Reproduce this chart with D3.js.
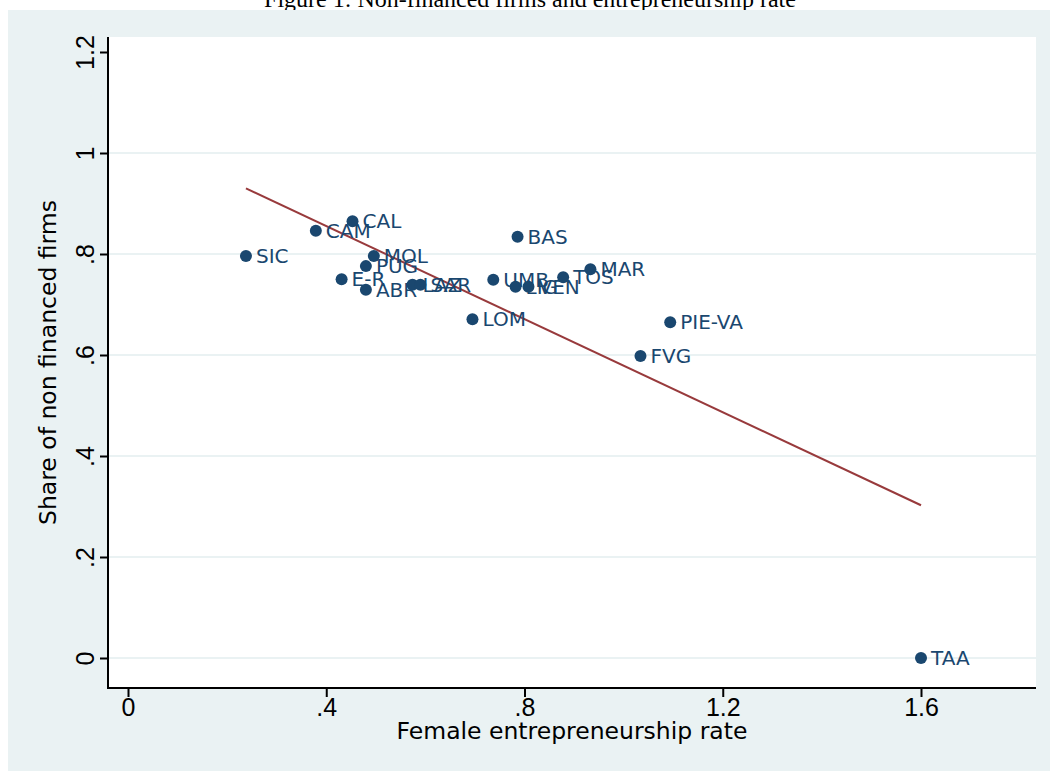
<!DOCTYPE html>
<html>
<head>
<meta charset="utf-8">
<script src="https://cdn.jsdelivr.net/npm/d3@7"></script>
<style>
  html, body { margin: 0; padding: 0; background: #ffffff; }
  svg { display: block; }
</style>
</head>
<body>
<svg id="chart" width="1056" height="771"></svg>
<script>
// ---- data ----
const regions = ["SIC","CAM","CAL","MOL","PUG","E-R","ABR","LAZ","SAR","UMB","LIG","VEN","BAS","TOS","MAR","LOM","PIE-VA","FVG","TAA"];
const femaleRate = [0.238,0.379,0.453,0.496,0.480,0.431,0.480,0.574,0.590,0.737,0.782,0.808,0.786,0.878,0.933,0.695,1.094,1.034,1.600];
const nonFinanced = [0.796,0.846,0.865,0.796,0.776,0.750,0.729,0.739,0.739,0.749,0.735,0.735,0.834,0.754,0.770,0.671,0.665,0.598,0.000];
const xTicks = [0, 0.4, 0.8, 1.2, 1.6];
const xTickLabels = ["0", ".4", ".8", "1.2", "1.6"];
const yTicks = [0, 0.2, 0.4, 0.6, 0.8, 1.0, 1.2];
const yTickLabels = ["0", ".2", ".4", ".6", ".8", "1", "1.2"];
const titleText = "Figure 1: Non-financed firms and entrepreneurship rate";
const xTitle = "Female entrepreneurship rate";
const yTitle = "Share of non financed firms";

const points = regions.map((r, i) => ({ name: r, x: femaleRate[i], y: nonFinanced[i] }));

// ---- layout ----
const svg = d3.select("#chart");
const plot = { left: 108, right: 1036, top: 37, bottom: 688 };
const x = d3.scaleLinear().domain([0, 1.6]).range([128, 921]);
const y = d3.scaleLinear().domain([0, 1.2]).range([658, 52]);

const navy = "#1a476f";
const maroon = "#983a3c";
const bg = "#eaf2f3";

// figure title (partly clipped at top)
svg.append("text")
  .attr("x", 530).attr("y", 7)
  .attr("text-anchor", "middle")
  .attr("font-family", "Liberation Serif, serif")
  .attr("font-size", 24)
  .attr("fill", "#000")
  .text(titleText);

// outer graph region
svg.append("rect")
  .attr("x", 8).attr("y", 10).attr("width", 1042).attr("height", 761)
  .attr("fill", bg);

// plot region
svg.append("rect")
  .attr("x", plot.left).attr("y", plot.top)
  .attr("width", plot.right - plot.left).attr("height", plot.bottom - plot.top)
  .attr("fill", "#ffffff");

// gridlines
svg.append("g").selectAll("line")
  .data(yTicks.filter(v => v < 1.1))
  .join("line")
  .attr("x1", plot.left).attr("x2", plot.right)
  .attr("y1", d => y(d)).attr("y2", d => y(d))
  .attr("stroke", bg).attr("stroke-width", 2);

// fit line (OLS)
const mx = d3.mean(femaleRate), my = d3.mean(nonFinanced);
const sxy = d3.sum(points, p => (p.x - mx) * (p.y - my));
const sxx = d3.sum(points, p => (p.x - mx) * (p.x - mx));
const slope = sxy / sxx, intercept = my - slope * mx;
const [xmin, xmax] = d3.extent(femaleRate);
svg.append("line")
  .attr("x1", x(xmin)).attr("y1", y(intercept + slope * xmin))
  .attr("x2", x(xmax)).attr("y2", y(intercept + slope * xmax))
  .attr("stroke", maroon).attr("stroke-width", 2);

// markers
svg.append("g").selectAll("circle")
  .data(points).join("circle")
  .attr("cx", d => x(d.x)).attr("cy", d => y(d.y))
  .attr("r", 6).attr("fill", navy);

// marker labels
svg.append("g").selectAll("text")
  .data(points).join("text")
  .attr("x", d => x(d.x) + 10).attr("y", d => y(d.y))
  .attr("dy", "0.36em")
  .attr("font-family", "DejaVu Sans, sans-serif")
  .attr("font-size", 20)
  .attr("fill", navy)
  .text(d => d.name);

// y axis
const yAxis = d3.axisLeft(y).tickValues(yTicks)
  .tickFormat((d, i) => yTickLabels[i]).tickSize(8).tickPadding(5);
const gy = svg.append("g").attr("transform", `translate(${plot.left},0)`).call(yAxis);
gy.select(".domain").remove();
gy.selectAll(".tick line").attr("stroke", "#000").attr("stroke-width", 2);
gy.selectAll(".tick text")
  .attr("font-family", "Liberation Sans Narrow, Arial Narrow, sans-serif")
  .attr("font-size", 25)
  .attr("fill", "#000")
  .attr("x", null).attr("dy", null)
  .attr("text-anchor", "middle")
  .attr("transform", "translate(-14,0) rotate(-90)");
svg.append("line")
  .attr("x1", plot.left).attr("x2", plot.left)
  .attr("y1", plot.top).attr("y2", plot.bottom + 1)
  .attr("stroke", "#000").attr("stroke-width", 2);

// x axis
const xAxis = d3.axisBottom(x).tickValues(xTicks)
  .tickFormat((d, i) => xTickLabels[i]).tickSize(9).tickPadding(1);
const gx = svg.append("g").attr("transform", `translate(0,${plot.bottom})`).call(xAxis);
gx.select(".domain").remove();
gx.selectAll(".tick line").attr("stroke", "#000").attr("stroke-width", 2);
gx.selectAll(".tick text")
  .attr("font-family", "Liberation Sans Narrow, Arial Narrow, sans-serif")
  .attr("font-size", 25)
  .attr("fill", "#000");
svg.append("line")
  .attr("x1", plot.left - 1).attr("x2", plot.right)
  .attr("y1", plot.bottom).attr("y2", plot.bottom)
  .attr("stroke", "#000").attr("stroke-width", 2);

// axis titles
svg.append("text")
  .attr("x", 572).attr("y", 739)
  .attr("text-anchor", "middle")
  .attr("font-family", "DejaVu Sans, sans-serif")
  .attr("font-size", 23.5)
  .attr("fill", "#000")
  .text(xTitle);
svg.append("text")
  .attr("transform", `translate(56,${(plot.top + plot.bottom) / 2}) rotate(-90)`)
  .attr("text-anchor", "middle")
  .attr("font-family", "DejaVu Sans, sans-serif")
  .attr("font-size", 23.5)
  .attr("fill", "#000")
  .text(yTitle);
</script>
</body>
</html>
